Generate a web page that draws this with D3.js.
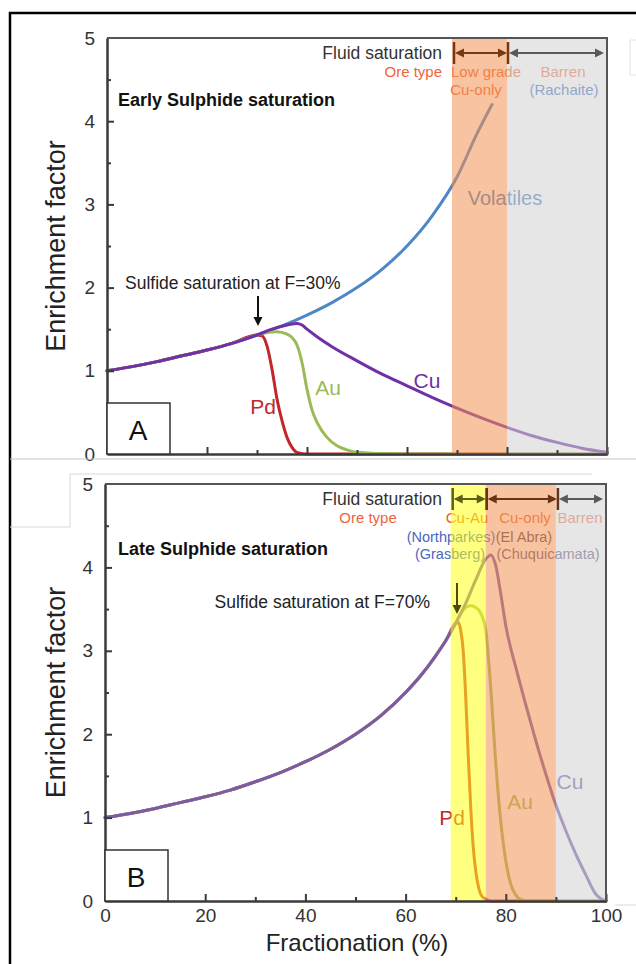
<!DOCTYPE html>
<html>
<head>
<meta charset="utf-8">
<script src="https://cdn.jsdelivr.net/npm/d3@7"></script>
<style>
  body { margin: 0; background: #fff; }
  svg { display: block; font-family: "Liberation Sans", Arial, sans-serif; }
</style>
</head>
<body>
<svg id="chart" width="636" height="964"></svg>
<script>
// values (F in %, enrichment factor)
var fracMajor = [0, 20, 40, 60, 80, 100];
var fracMinor = [10, 30, 50, 70, 90];
var enrichMajor = [0, 1, 2, 3, 4, 5];
var enrichMinor = [0.5, 1.5, 2.5, 3.5, 4.5];

// common melt path before sulphide saturation
var meltRise = [[0, 1], [5, 1.05], [10, 1.11], [15, 1.18], [20, 1.25], [25, 1.33], [30, 1.43]];
var meltRiseLate = [[35, 1.54], [40, 1.67], [45, 1.82], [50, 2.0], [55, 2.22], [60, 2.5], [63, 2.7], [66, 2.94], [68, 3.12], [70, 3.33]];

// panel A - early sulphide saturation
var earlyVolatiles = [[35, 1.54], [40, 1.67], [45, 1.82], [50, 2.0], [55, 2.22], [60, 2.5], [65, 2.86], [70, 3.33], [74, 3.85], [77, 4.2]];
var earlyCu = [[33, 1.5], [36, 1.55], [38, 1.57], [39, 1.55], [40, 1.5], [42, 1.41], [45, 1.29], [50, 1.12], [55, 0.96], [60, 0.82], [65, 0.68], [70, 0.55], [75, 0.43], [80, 0.32], [85, 0.22], [90, 0.14], [95, 0.07], [100, 0.02]];
var earlyPd = [[31, 1.42], [32, 1.3], [33, 1.02], [34, 0.66], [35, 0.4], [36, 0.2], [37, 0.08], [38, 0.02], [40, 0], [100, 0]];
var earlyAu = [[32, 1.46], [34, 1.47], [36, 1.44], [37, 1.4], [38, 1.31], [39, 1.1], [40, 0.78], [41, 0.53], [42, 0.38], [44, 0.2], [46, 0.1], [48, 0.05], [50, 0.02], [55, 0.005], [60, 0], [100, 0]];
var earlyZoneEdges = [69, 80, 100];

// panel B - late sulphide saturation
var lateCu = [[72, 3.57], [74, 3.85], [76, 4.1], [77, 4.15], [78, 4.02], [79, 3.68], [80, 3.3], [82, 2.8], [84, 2.35], [86, 1.92], [88, 1.52], [90, 1.15], [92, 0.84], [94, 0.56], [96, 0.31], [98, 0.08], [100, 0]];
var latePd = [[70.5, 3.34], [71, 3.25], [71.5, 3.0], [72, 2.45], [72.5, 1.75], [73, 1.12], [73.5, 0.65], [74, 0.36], [74.5, 0.18], [75, 0.08], [76, 0.02], [77, 0], [100, 0]];
var lateAu = [[71, 3.45], [72, 3.52], [73, 3.54], [74, 3.52], [75, 3.45], [76, 3.25], [77, 2.55], [78, 1.65], [79, 0.95], [80, 0.48], [81, 0.2], [82, 0.07], [83, 0.02], [85, 0], [100, 0]];
var lateZoneEdges = [69, 76, 90, 100];

function init(){

    var svg = d3.select('svg#chart');
    var zoneFill = { yellow: 'rgb(255,255,24)', orange: 'rgb(242,146,82)', gray: 'rgb(210,210,210)' };

    function arrowDouble(g, x1, x2, yy, color, bars){
        g.append('line').attr('x1', x1 + 3).attr('x2', x2 - 3).attr('y1', yy).attr('y2', yy)
          .attr('stroke', color).attr('stroke-width', 2);
        g.append('path').attr('d', `M${x1 + 1},${yy}L${x1 + 10},${yy - 4.5}L${x1 + 10},${yy + 4.5}Z`).attr('fill', color);
        g.append('path').attr('d', `M${x2 - 1},${yy}L${x2 - 10},${yy - 4.5}L${x2 - 10},${yy + 4.5}Z`).attr('fill', color);
        bars.forEach(function(bx){
            g.append('line').attr('x1', bx).attr('x2', bx).attr('y1', yy - 11).attr('y2', yy + 11)
              .attr('stroke', color).attr('stroke-width', 2.5);
        });
    }

    function arrowDown(g, xx, y1, y2, color){
        g.append('line').attr('x1', xx).attr('x2', xx).attr('y1', y1).attr('y2', y2 - 4)
          .attr('stroke', color).attr('stroke-width', 2);
        g.append('path').attr('d', `M${xx},${y2}L${xx - 4.5},${y2 - 9}L${xx + 4.5},${y2 - 9}Z`).attr('fill', color);
    }

    function text(g, s, xx, yy, opts){
        opts = opts || {};
        return g.append('text').attr('x', xx).attr('y', yy)
          .attr('dy', '0.35em')
          .attr('text-anchor', opts.anchor || 'middle')
          .attr('font-size', opts.size || 15)
          .attr('font-weight', opts.weight || 'normal')
          .attr('fill', opts.color || '#222')
          .text(s);
    }

    function create_panel(cfg){
        var g = svg.append('g');
        var x = d3.scaleLinear().domain([0, 100]).range([cfg.left, cfg.right]);
        var y = d3.scaleLinear().domain([0, 5]).range([cfg.bottom, cfg.top]);

        var line = d3.line()
          .x(function(d){ return x(d[0]); })
          .y(function(d){ return y(d[1]); })
          .curve(d3.curveMonotoneX);

        // curves
        cfg.series.forEach(function(s){
            g.append('path')
              .attr('d', line(s.data))
              .attr('fill', 'none')
              .attr('stroke', s.color)
              .attr('stroke-width', 3)
              .attr('stroke-linejoin', 'round')
              .attr('stroke-linecap', 'round');
        });

        // text sitting under the translucent zones
        cfg.labels.forEach(function(l){
            text(g, l.text, l.x, l.y, l);
        });

        // ore type zones (translucent overlay)
        var edges = cfg.zoneEdges;
        for (var i = 0; i < edges.length - 1; i++){
            g.append('rect')
              .attr('x', x(edges[i]))
              .attr('y', y(5))
              .attr('width', x(edges[i + 1]) - x(edges[i]))
              .attr('height', y(0) - y(5))
              .attr('fill', zoneFill[cfg.zoneColors[i]])
              .attr('fill-opacity', 0.55);
        }

        // axes, ticks point inwards
        var yMinor = g.append('g').attr('transform', `translate(${cfg.left},0)`)
          .call(d3.axisLeft(y).tickValues(enrichMinor).tickSize(-4).tickSizeOuter(0).tickFormat(''));
        var yMajor = g.append('g').attr('transform', `translate(${cfg.left},0)`)
          .call(d3.axisLeft(y).tickValues(enrichMajor).tickSize(-7).tickSizeOuter(0).tickPadding(12)
            .tickFormat(d3.format('d')));
        var xMinor = g.append('g').attr('transform', `translate(0,${cfg.bottom})`)
          .call(d3.axisBottom(x).tickValues(fracMinor).tickSize(-4).tickSizeOuter(0).tickFormat(''));
        var xMajor = g.append('g').attr('transform', `translate(0,${cfg.bottom})`)
          .call(d3.axisBottom(x).tickValues(fracMajor).tickSize(-7).tickSizeOuter(0).tickPadding(8)
            .tickFormat(cfg.xLabels ? d3.format('d') : ''));

        [yMinor, yMajor, xMinor, xMajor].forEach(function(a){
            a.selectAll('path.domain').attr('stroke', '#3a3a3a').attr('stroke-width', 2);
            a.selectAll('.tick line').attr('stroke', '#3a3a3a').attr('stroke-width', 2);
            a.selectAll('.tick text')
              .attr('font-size', 19)
              .attr('font-family', '"Liberation Sans", Arial, sans-serif')
              .attr('fill', '#333');
        });
        yMajor.selectAll('.tick').filter(function(d){ return d === 0 || d === 5; }).select('line').remove();

        // top and right frame
        g.append('path')
          .attr('d', `M${cfg.left},${y(5)}H${cfg.right}V${y(0)}`)
          .attr('fill', 'none').attr('stroke', '#555').attr('stroke-width', 2);

        // y title
        g.append('text')
          .attr('transform', `translate(56,${(cfg.top + cfg.bottom) / 2}) rotate(-90)`)
          .attr('text-anchor', 'middle')
          .attr('dy', '0.35em')
          .attr('font-size', 27)
          .attr('fill', '#222')
          .text('Enrichment factor');

        // fluid saturation brackets
        text(g, 'Fluid saturation', 442, cfg.headerY, { anchor: 'end', size: 17.5, color: '#333' });
        cfg.brackets.forEach(function(b){
            arrowDouble(g, x(b.from), x(b.to), cfg.headerY, b.color, b.bars ? [x(b.from), x(b.to)] : []);
        });

        // titles, annotations and letter box
        text(g, cfg.title, 118, cfg.titleY, { anchor: 'start', size: 18, weight: 'bold', color: '#111' });
        text(g, cfg.satText, cfg.satX, cfg.satY, { anchor: cfg.satAnchor, size: 17.5, color: '#222' });
        arrowDown(g, cfg.arrowX, cfg.arrowY1, cfg.arrowY2, cfg.arrowColor);

        g.append('rect')
          .attr('x', cfg.left).attr('y', cfg.bottom - 51)
          .attr('width', 63).attr('height', 51)
          .attr('fill', '#fff').attr('stroke', '#333').attr('stroke-width', 1.5);
        text(g, cfg.letter, cfg.left + 31, cfg.bottom - 24, { size: 28, color: '#111' });

        return { g: g, x: x, y: y };
    }

    // panel A
    create_panel({
        left: 107, right: 607, top: 38, bottom: 454,
        xLabels: false,
        series: [
            { data: meltRise.concat(earlyVolatiles), color: '#4f86c6' },
            { data: meltRise.concat(earlyPd), color: '#c0282a' },
            { data: meltRise.concat(earlyAu), color: '#9bbb59' },
            { data: meltRise.concat(earlyCu), color: '#7030a8' }
        ],
        zoneEdges: earlyZoneEdges,
        zoneColors: ['orange', 'gray'],
        labels: [
            { text: 'Ore type', x: 442, y: 72, anchor: 'end', size: 15, color: '#f0643a' },
            { text: 'Low grade', x: 486, y: 72, size: 15, color: '#f06a35' },
            { text: 'Cu-only', x: 476, y: 90, size: 15, color: '#f06a35' },
            { text: 'Barren', x: 563, y: 72, size: 15, color: '#f27a50' },
            { text: '(Rachaite)', x: 564, y: 90, size: 15, color: '#4472c4' },
            { text: 'Volatiles', x: 505, y: 198, size: 20, color: '#4f81bd' },
            { text: 'Pd', x: 263, y: 407, size: 21, color: '#c0282a' },
            { text: 'Au', x: 328, y: 388, size: 21, color: '#9bbb59' },
            { text: 'Cu', x: 427, y: 381, size: 21, color: '#7030a8' }
        ],
        headerY: 53,
        brackets: [
            { from: 69.4, to: 80.2, color: '#7a3812', bars: true },
            { from: 80.2, to: 99.6, color: '#5a5a5a', bars: false }
        ],
        title: 'Early Sulphide saturation', titleY: 100,
        satText: 'Sulfide saturation at F=30%', satX: 125, satY: 283, satAnchor: 'start',
        arrowX: 258, arrowY1: 296, arrowY2: 326, arrowColor: '#111',
        letter: 'A'
    });

    // panel B
    create_panel({
        left: 105, right: 606, top: 484, bottom: 901,
        xLabels: true,
        series: [
            { data: meltRise.concat(meltRiseLate, latePd), color: '#c8322a' },
            { data: meltRise.concat(meltRiseLate, lateAu), color: '#9bbb59' },
            { data: meltRise.concat(meltRiseLate, lateCu), color: '#7b5ba8' }
        ],
        zoneEdges: lateZoneEdges,
        zoneColors: ['yellow', 'orange', 'gray'],
        labels: [
            { text: 'Ore type', x: 368, y: 518, size: 15, color: '#f0643a' },
            { text: 'Cu-Au', x: 467, y: 518, size: 15, color: '#f05a20' },
            { text: 'Cu-only', x: 525, y: 518, size: 15, color: '#f06a35' },
            { text: 'Barren', x: 580, y: 518, size: 15, color: '#f27a50' },
            { text: '(Northparkes)', x: 451, y: 537, size: 14.5, color: '#4a68c0' },
            { text: '(El Abra)', x: 524, y: 537, size: 14.5, color: '#5c4a50' },
            { text: '(Grasberg)', x: 450, y: 554, size: 14.5, color: '#4a68c0' },
            { text: '(Chuquicamata)', x: 548, y: 554, size: 14.5, color: '#6a5a80' },
            { text: 'Pd', x: 452, y: 818, size: 21, color: '#c0282a' },
            { text: 'Au', x: 520, y: 802, size: 21, color: '#9bbb59' },
            { text: 'Cu', x: 570, y: 782, size: 21, color: '#7b5ba8' }
        ],
        headerY: 499,
        brackets: [
            { from: 69.4, to: 76.2, color: '#5e5e18', bars: true },
            { from: 76.2, to: 90.4, color: '#6a3414', bars: true },
            { from: 90.4, to: 99.6, color: '#5a5a5a', bars: false }
        ],
        title: 'Late Sulphide saturation', titleY: 549,
        satText: 'Sulfide saturation at F=70%', satX: 430, satY: 602, satAnchor: 'end',
        arrowX: 457, arrowY1: 583, arrowY2: 614, arrowColor: '#4a4a10',
        letter: 'B'
    });

    // x title
    svg.append('text')
      .attr('x', 357).attr('y', 943).attr('dy', '0.35em')
      .attr('text-anchor', 'middle').attr('font-size', 24).attr('fill', '#222')
      .text('Fractionation (%)');

    // page edges of the pasted figure
    var edges = svg.append('g').attr('fill', 'none');
    edges.append('path').attr('d', 'M10,964V13H636').attr('stroke', '#000').attr('stroke-width', 2.5);
    edges.append('path').attr('d', 'M10,459H636').attr('stroke', '#c8c8c8').attr('stroke-width', 1);
    edges.append('path').attr('d', 'M10,527H70V474H592').attr('stroke', '#d8d8d8').attr('stroke-width', 1);
    edges.append('path').attr('d', 'M615,905H636').attr('stroke', '#d8d8d8').attr('stroke-width', 1);
    edges.append('path').attr('d', 'M636,40H630V75H636').attr('stroke', '#e2e2e2').attr('stroke-width', 1);
}

init();
</script>
</body>
</html>
